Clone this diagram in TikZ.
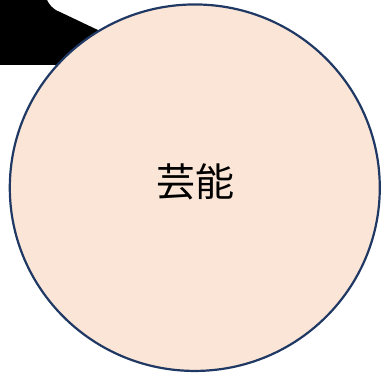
\documentclass[tikz,border=0pt]{standalone}
\usepackage{fontspec}
\usetikzlibrary{shapes.geometric}
\newfontfamily\cjk{Noto Sans CJK JP}
\definecolor{circfill}{HTML}{FBE5D6}
\definecolor{circline}{HTML}{1F3864}
\begin{document}
\begin{tikzpicture}[x=1pt,y=-1pt,
  bubble/.style={ellipse,draw=circline,fill=circfill,line width=2.2pt,minimum width=370pt,minimum height=366.5pt,inner sep=0pt,font=\cjk\fontsize{39}{45}\selectfont}]
\useasboundingbox (0,0) rectangle (381,374);
\fill[black] (0,0) -- (47,0) .. controls (49,4) and (52,9) .. (60,12) -- (140,50) -- (140,65) -- (0,65) -- cycle;
\node[bubble] (c) at (194.8,187.7) {};
\node[font=\cjk\fontsize{39}{45}\selectfont] (t) at (195.5,182) {芸能};
\end{tikzpicture}
\end{document}
